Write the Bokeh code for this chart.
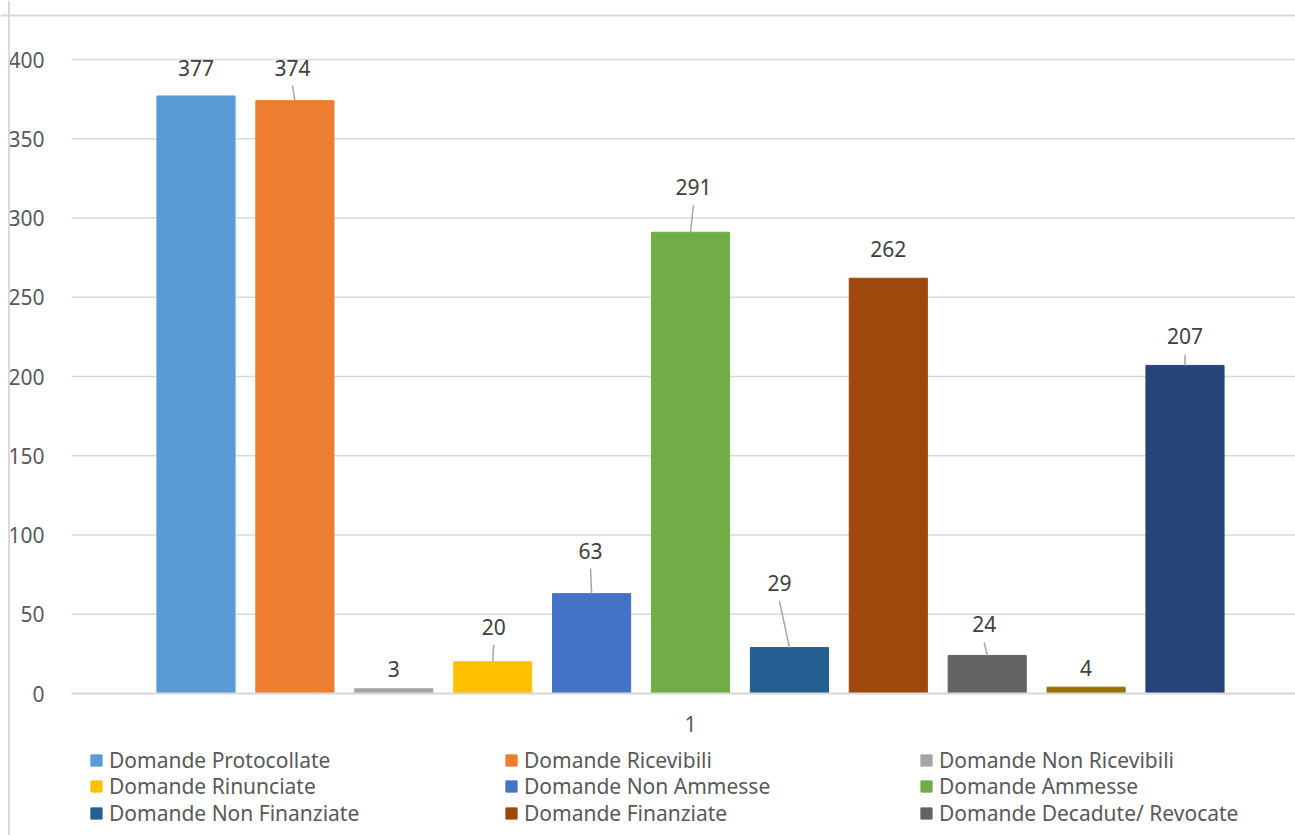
from bokeh.plotting import figure
from bokeh.models import ColumnDataSource, Range1d, FixedTicker, Legend, LegendItem, Span
from bokeh.embed import file_html
from bokeh.resources import INLINE
from bokeh.core.properties import value

# ---------------- data ----------------
category_labels = ["1"]
series_names = [
    "Domande Protocollate", "Domande Ricevibili", "Domande Non Ricevibili",
    "Domande Rinunciate", "Domande Non Ammesse", "Domande Ammesse",
    "Domande Non Finanziate", "Domande Finanziate", "Domande Decadute/ Revocate",
]  # the last two series are not visible in the (cropped) legend
values = [377, 374, 3, 20, 63, 291, 29, 262, 24, 4, 207]
y_ticks = [0, 50, 100, 150, 200, 250, 300, 350, 400]

# ---------------- styles ----------------
colors = ["#5B9BD5", "#ED7D31", "#A5A5A5", "#FFC000", "#4472C4", "#70AD47",
          "#255E91", "#9E480E", "#636363", "#997300", "#264478"]
label_dx = [0, -2.5, 0, 1, -1, 3, -10, 0, -3, 0, 0]                 # px
label_dy = [-28, -33, -20, -35, -43, -45, -65, -29, -31, -19, -29]  # px
has_leader = [False, True, False, True, True, True, True, False, True, False, True]
FONT = "Noto Sans"
FS = "21px"
GRID = "#d9d9d9"

# canvas geometry (pixels); the frame fills the whole canvas
W, H = 1295, 835
px_x = 98.9            # px per bar slot
first_bar_px = 195.5   # centre of first bar from canvas left
plot_left_px = 71      # left end of the plot area (grid lines)
zero_px = 693          # y=0 from canvas top
px_y = 1.585           # px per unit value
top_border_px = 15
left_border_px = 8.5
legend_left_px = 89
legend_row_bottoms = [61, 35, 8]   # px above canvas bottom, one per legend row

x_start = -first_bar_px / px_x
x_end = x_start + W / px_x
x_plot_left = x_start + plot_left_px / px_x
y_end = zero_px / px_y
y_start = -(H - zero_px) / px_y

xs = list(range(len(values)))
src = ColumnDataSource(dict(x=xs, top=values, color=colors,
                            lbl=[str(v) for v in values],
                            dx=label_dx, dy=label_dy))

p = figure(width=W, height=H, output_backend="svg", toolbar_location=None,
           x_range=Range1d(x_start, x_end), y_range=Range1d(y_start, y_end),
           min_border=0)
p.outline_line_color = None
p.background_fill_color = "white"
p.border_fill_color = "white"
p.xgrid.visible = False
p.ygrid.visible = False

# horizontal grid lines across the plot area
p.segment(x0=[x_plot_left] * len(y_ticks), x1=[x_end] * len(y_ticks),
          y0=y_ticks, y1=y_ticks, line_color=GRID, line_width=1.5)

bars = p.vbar(x="x", top="top", bottom=0, width=0.79, color="color", source=src)

# leader lines
lx0, ly0, lx1, ly1 = [], [], [], []
for i, v in enumerate(values):
    if has_leader[i]:
        lx0.append(i + label_dx[i] / px_x)
        ly0.append(v + (-label_dy[i] - 18) / px_y)
        lx1.append(i)
        ly1.append(v)
p.segment(x0=lx0, y0=ly0, x1=lx1, y1=ly1, line_color="#a6a6a6", line_width=1.5)

p.text(x="x", y="top", text="lbl", x_offset="dx", y_offset="dy", source=src,
       text_align="center", text_baseline="middle", text_color="#404040",
       text_font_size=FS, text_font=value(FONT))

# chart-area border (left and top edges)
p.add_layout(Span(location=x_start + left_border_px / px_x, dimension="height",
                  line_color=GRID, line_width=2))
p.add_layout(Span(location=y_end - top_border_px / px_y, dimension="width",
                  line_color=GRID, line_width=2))

# axes drawn inside the frame
p.xaxis.fixed_location = 0
p.xaxis.bounds = (x_plot_left, x_end)
p.xaxis.ticker = FixedTicker(ticks=[5])
p.xaxis.major_label_overrides = {5: category_labels[0]}
p.xaxis.major_tick_line_color = None
p.xaxis.minor_tick_line_color = None
p.xaxis.axis_line_color = GRID
p.xaxis.axis_line_width = 2
p.xaxis.major_label_standoff = 16
p.xaxis.major_label_text_font = FONT
p.xaxis.major_label_text_font_size = FS
p.xaxis.major_label_text_color = "#595959"

p.yaxis.fixed_location = x_plot_left
p.yaxis.ticker = FixedTicker(ticks=y_ticks)
p.yaxis.major_tick_line_color = None
p.yaxis.minor_tick_line_color = None
p.yaxis.axis_line_color = None
p.yaxis.major_label_standoff = 21
p.yaxis.major_label_text_font = FONT
p.yaxis.major_label_text_font_size = FS
p.yaxis.major_label_text_color = "#595959"

# legend: three rows of three entries (row-major, as in the reference)
n_cols = 3
for r, vy in enumerate(legend_row_bottoms):
    row_items = [LegendItem(label=series_names[i], renderers=[bars], index=i)
                 for i in range(r * n_cols, min((r + 1) * n_cols, len(series_names)))]
    leg = Legend(items=row_items, location=(legend_left_px, vy), orientation="horizontal",
                 glyph_width=14, glyph_height=14, label_standoff=6, label_width=395,
                 label_height=26, spacing=-2, padding=0, margin=0,
                 label_text_font=FONT, label_text_font_size=FS, label_text_color="#595959",
                 border_line_color=None, background_fill_alpha=0)
    p.add_layout(leg, "center")

open("out.html", "w").write(file_html(p, INLINE))
